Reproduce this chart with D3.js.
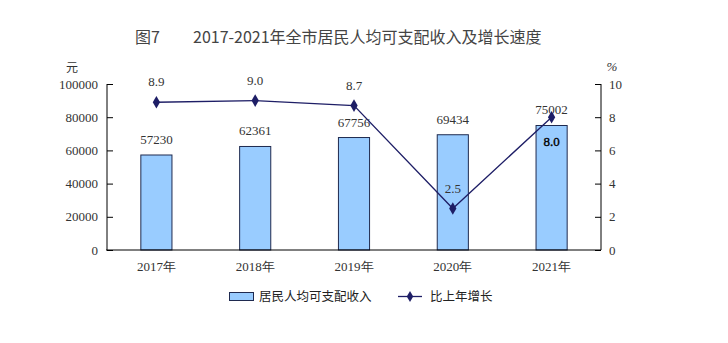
<!DOCTYPE html>
<html>
<head>
<meta charset="utf-8">
<script src="https://cdn.jsdelivr.net/npm/d3@7/dist/d3.min.js"></script>
<style>
  html, body { margin: 0; padding: 0; background: #fff; }
  svg { display: block; }
</style>
</head>
<body>
<svg id="chart" width="728" height="343"></svg>
<script>
// Per-capita disposable income of residents and its year-on-year growth
const years = ["2017年", "2018年", "2019年", "2020年", "2021年"];
const income = [57230, 62361, 67756, 69434, 75002];
const growth = [8.9, 9.0, 8.7, 2.5, 8.0];
const leftTicks = [0, 20000, 40000, 60000, 80000, 100000];
const rightTicks = [0, 2, 4, 6, 8, 10];

const numFont = "'Liberation Serif', 'DejaVu Serif', serif";
const cjkFont = "'Noto Sans CJK SC', sans-serif";
const textColor = "#333";
const barFill = "#99CCFF";
const barStroke = "#1F2A4F";
const lineColor = "#1E1E66";

const svg = d3.select("#chart");
const plot = { left: 107, right: 601, top: 84, bottom: 250 };

const x = d3.scaleBand().domain(years).range([plot.left, plot.right]).padding(0);
const yL = d3.scaleLinear().domain([0, 100000]).range([plot.bottom, plot.top]);
const yR = d3.scaleLinear().domain([0, 10]).range([plot.bottom, plot.top]);
const barW = x.bandwidth() * 0.315;
const cx = d => x(d) + x.bandwidth() / 2;

// Title
svg.append("text").attr("x", 135).attr("y", 43)
  .attr("font-family", cjkFont).attr("font-size", 16).attr("fill", "#444")
  .text("图7");
svg.append("text").attr("x", 193).attr("y", 43)
  .attr("font-family", cjkFont).attr("font-size", 16).attr("fill", "#444")
  .text("2017-2021年全市居民人均可支配收入及增长速度");

// Bars
svg.append("g").selectAll("rect").data(income).join("rect")
  .attr("x", (d, i) => cx(years[i]) - barW / 2)
  .attr("y", d => yL(d))
  .attr("width", barW)
  .attr("height", d => plot.bottom - yL(d))
  .attr("fill", barFill)
  .attr("stroke", barStroke)
  .attr("stroke-width", 1);

// Left axis
const axL = svg.append("g").attr("transform", `translate(${plot.left},0)`)
  .call(d3.axisRight(yL).tickValues(leftTicks).tickSize(6).tickFormat(d3.format("d")));
axL.select(".domain").remove();
axL.append("line").attr("x1", 0).attr("x2", 0).attr("y1", plot.top).attr("y2", plot.bottom)
  .attr("stroke", "#000");
axL.selectAll(".tick line").attr("stroke", "#000");
axL.selectAll(".tick text").attr("x", -9).attr("text-anchor", "end")
  .attr("font-family", numFont).attr("font-size", 13).attr("fill", textColor);

// Right axis
const axR = svg.append("g").attr("transform", `translate(${plot.right},0)`)
  .call(d3.axisLeft(yR).tickValues(rightTicks).tickSize(6).tickFormat(d3.format("d")));
axR.select(".domain").remove();
axR.append("line").attr("x1", 0).attr("x2", 0).attr("y1", plot.top).attr("y2", plot.bottom)
  .attr("stroke", "#000");
axR.selectAll(".tick line").attr("stroke", "#000");
axR.selectAll(".tick text").attr("x", 8).attr("text-anchor", "start")
  .attr("font-family", numFont).attr("font-size", 13).attr("fill", textColor);

// Bottom axis
const axB = svg.append("g").attr("transform", `translate(0,${plot.bottom})`)
  .call(d3.axisBottom(x).tickSize(0));
axB.select(".domain").attr("stroke", "#000").attr("d", `M${plot.left - 1},0H${plot.right}`);
axB.selectAll(".tick text").attr("dy", 0).attr("y", 21)
  .attr("font-family", numFont).attr("font-size", 13).attr("fill", textColor);

// Unit labels
svg.append("text").attr("x", 72).attr("y", 72).attr("text-anchor", "middle")
  .attr("font-family", cjkFont).attr("font-size", 12).attr("fill", textColor).text("元");
svg.append("text").attr("x", 612).attr("y", 71).attr("text-anchor", "middle")
  .attr("font-family", numFont).attr("font-size", 13).attr("font-style", "italic")
  .attr("fill", textColor).text("%");

// Bar value labels
svg.append("g").selectAll("text").data(income).join("text")
  .attr("x", (d, i) => cx(years[i]))
  .attr("y", d => yL(d) - 11)
  .attr("text-anchor", "middle")
  .attr("font-family", numFont).attr("font-size", 13).attr("fill", textColor)
  .text(d => d);

// Growth line
const line = d3.line().x((d, i) => cx(years[i])).y(d => yR(d));
svg.append("path").datum(growth).attr("d", line)
  .attr("fill", "none").attr("stroke", lineColor).attr("stroke-width", 1.3);
const diamond = d3.symbol().type(d3.symbolDiamond).size(46);
svg.append("g").selectAll("path").data(growth).join("path")
  .attr("d", diamond)
  .attr("transform", (d, i) => `translate(${cx(years[i])},${yR(d)})`)
  .attr("fill", lineColor);

// Growth value labels (the last one sits below its point, inside the bar)
const last = growth.length - 1;
svg.append("g").selectAll("text").data(growth).join("text")
  .attr("x", (d, i) => cx(years[i]))
  .attr("y", (d, i) => i === last ? yR(d) + 29 : yR(d) - 16)
  .attr("text-anchor", "middle")
  .attr("font-family", numFont).attr("font-size", 13)
  .attr("fill", (d, i) => i === last ? "#000" : textColor)
  .attr("stroke", (d, i) => i === last ? "#000" : "none")
  .attr("stroke-width", 0.35)
  .text(d => d.toFixed(1));

// Legend
const lg = svg.append("g");
lg.append("rect").attr("x", 229.5).attr("y", 292.5).attr("width", 24).attr("height", 8)
  .attr("fill", barFill).attr("stroke", barStroke);
lg.append("text").attr("x", 259).attr("y", 301)
  .attr("font-family", cjkFont).attr("font-size", 12.5).attr("fill", "#222")
  .text("居民人均可支配收入");
lg.append("line").attr("x1", 398).attr("x2", 422).attr("y1", 296.5).attr("y2", 296.5)
  .attr("stroke", lineColor).attr("stroke-width", 1.3);
lg.append("path").attr("d", d3.symbol().type(d3.symbolDiamond).size(36)())
  .attr("transform", "translate(410,296.5)")
  .attr("fill", lineColor);
lg.append("text").attr("x", 430).attr("y", 301)
  .attr("font-family", cjkFont).attr("font-size", 12.5).attr("fill", "#222")
  .text("比上年增长");
</script>
</body>
</html>
